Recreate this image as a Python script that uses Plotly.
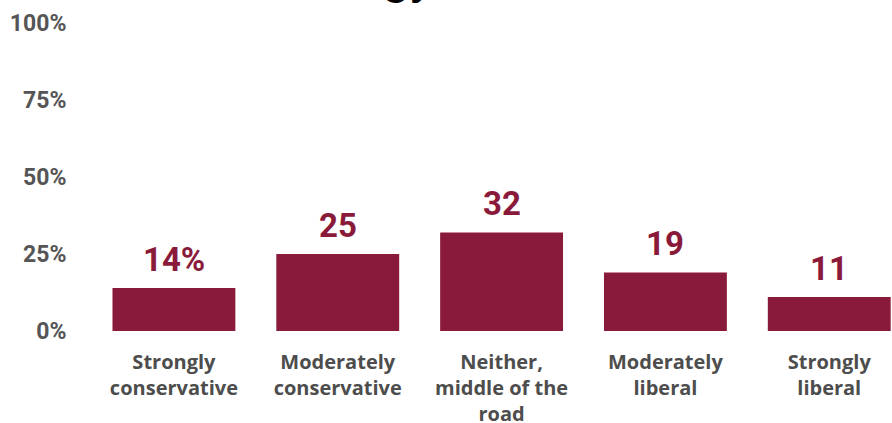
import plotly.graph_objects as go

# Survey shares by political ideology
categories = [
    "Strongly<br>conservative",
    "Moderately<br>conservative",
    "Neither,<br>middle of the<br>road",
    "Moderately<br>liberal",
    "Strongly<br>liberal",
]
values = [14, 25, 32, 19, 11]
tick_vals = [0, 25, 50, 75, 100]
tick_text = ["0%", "25%", "50%", "75%", "100%"]
title_text = "Ideology"

BAR = "#8a1a3a"
FONT = "Roboto"

fig = go.Figure(
    go.Bar(
        x=list(range(len(categories))),
        y=values,
        marker=dict(color=BAR, line=dict(width=0)),
        hoverinfo="skip",
    )
)

# value labels above each bar (first one carries the % sign)
for i, v in enumerate(values):
    fig.add_annotation(
        x=i, y=v, xref="x", yref="y",
        text=f"{v}%" if i == 0 else str(v),
        showarrow=False, yanchor="bottom", yshift=7,
        font=dict(family=FONT, size=33, color=BAR, weight="bold"),
    )

# chart title sitting mostly above the visible area
fig.add_annotation(
    x=0.43, y=1, xref="paper", yref="paper",
    xanchor="right", yanchor="bottom", yshift=16,
    text=title_text, showarrow=False,
    font=dict(family=FONT, size=46, color="#000000", weight="bold"),
)

fig.update_layout(
    width=892, height=423,
    margin=dict(l=92, r=0, t=23, b=92),
    paper_bgcolor="white", plot_bgcolor="white",
    bargap=0.25, showlegend=False,
    xaxis=dict(
        range=[-0.5, 4.383],
        tickvals=list(range(len(categories))),
        ticktext=categories,
        automargin=False,
        showgrid=False, zeroline=False, showline=False,
        ticks="outside", ticklen=13, tickcolor="rgba(0,0,0,0)",
        tickfont=dict(family="Open Sans", size=20, color="#4d4d4d", weight="bold"),
    ),
    yaxis=dict(
        range=[0, 100],
        tickvals=tick_vals, ticktext=tick_text,
        automargin=False,
        showgrid=False, zeroline=False, showline=False,
        ticks="outside", ticklen=20, tickcolor="rgba(0,0,0,0)",
        tickfont=dict(family=FONT, size=23, color="#555555", weight="bold"),
    ),
)

fig.write_html("out.html")
